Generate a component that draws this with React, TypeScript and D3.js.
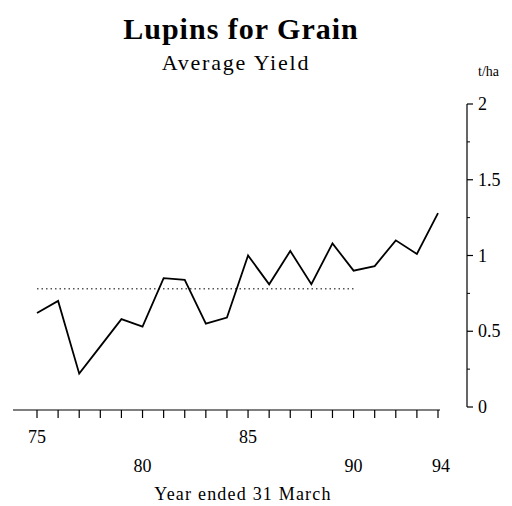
import React from "react";
import * as d3 from "d3";

const years = [75, 76, 77, 78, 79, 80, 81, 82, 83, 84, 85, 86, 87, 88, 89, 90, 91, 92, 93, 94];
const yieldValues = [0.62, 0.70, 0.22, 0.40, 0.58, 0.53, 0.85, 0.84, 0.55, 0.59, 1.00, 0.81, 1.03, 0.81, 1.08, 0.90, 0.93, 1.10, 1.01, 1.28];
const averageValue = 0.78;
const averageYears = [75, 90];
const xTickLabels = [
  { year: 75, row: 0 },
  { year: 80, row: 1 },
  { year: 85, row: 0 },
  { year: 90, row: 1 },
  { year: 94, row: 1 },
];
const yMajorTicks = [0, 0.5, 1, 1.5, 2];
const yMinorTicks = [0.25, 0.75, 1.25, 1.75];

export default function App() {
  const W = 512, H = 506;
  const x = d3.scaleLinear().domain([75, 94]).range([37, 438]);
  const y = d3.scaleLinear().domain([0, 2]).range([407, 104]);
  const line = d3.line<number>().x((_, i) => x(years[i])).y((d) => y(d));
  const axisX = 467;
  const baseY = 410;
  const font = "'Liberation Serif', 'DejaVu Serif', serif";
  return (
    <svg width={W} height={H} style={{ position: "absolute", left: 0, top: 0, background: "#fff" }} fontFamily={font}>
      <rect width={W} height={H} fill="#fff" />
      <text x={241} y={39} textAnchor="middle" fontSize={30} fontWeight="bold" letterSpacing={1}>Lupins for Grain</text>
      <text x={236} y={70} textAnchor="middle" fontSize={22} letterSpacing={1.8}>Average Yield</text>
      <text x={478} y={76} fontSize={14} textAnchor="start">t/ha</text>

      {/* x axis */}
      <line x1={13} x2={440} y1={baseY} y2={baseY} stroke="#000" strokeWidth={1.2} />
      {years.map((yr) => (
        <line key={yr} x1={x(yr)} x2={x(yr)} y1={baseY} y2={baseY + 8} stroke="#000" strokeWidth={1.2} />
      ))}
      {xTickLabels.map((t) => (
        <text key={t.year} x={x(t.year) + (t.year === 94 ? 3 : 0)} y={t.row === 0 ? 443 : 472} textAnchor="middle" fontSize={18}>
          {t.year}
        </text>
      ))}
      <text x={243} y={500} textAnchor="middle" fontSize={18} letterSpacing={1.2}>Year ended 31 March</text>

      {/* y axis */}
      <line x1={axisX} x2={axisX} y1={y(2)} y2={y(0)} stroke="#000" strokeWidth={1.2} />
      {yMajorTicks.map((v) => (
        <g key={v}>
          <line x1={axisX} x2={axisX + 6} y1={y(v)} y2={y(v)} stroke="#000" strokeWidth={1.2} />
          <text x={478} y={y(v) + 6} fontSize={18}>{v}</text>
        </g>
      ))}
      {yMinorTicks.map((v) => (
        <line key={v} x1={axisX} x2={axisX + 3} y1={y(v)} y2={y(v)} stroke="#000" strokeWidth={1} />
      ))}

      {/* average dotted line */}
      <line x1={x(averageYears[0])} x2={x(averageYears[1])} y1={y(averageValue)} y2={y(averageValue)} stroke="#000" strokeWidth={1} strokeDasharray="1.5 3" />

      {/* data line */}
      <path d={line(yieldValues) || ""} fill="none" stroke="#000" strokeWidth={1.8} strokeLinejoin="miter" />
    </svg>
  );
}
